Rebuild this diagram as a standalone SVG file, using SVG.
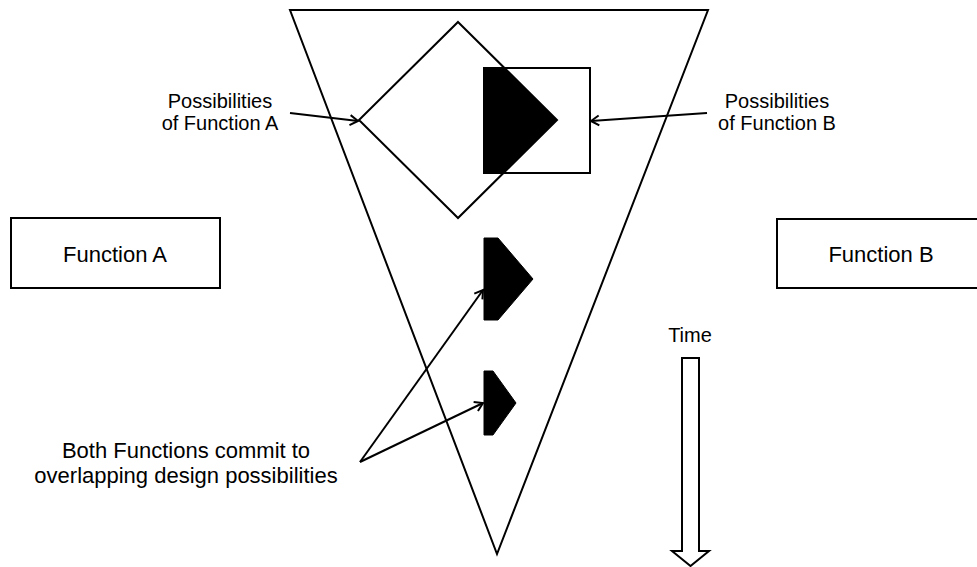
<svg xmlns="http://www.w3.org/2000/svg" width="977" height="567" viewBox="0 0 977 567">
  <style>
    .ln { fill: none; stroke: #000; stroke-width: 2; stroke-linejoin: miter; }
    .box { fill: #fff; stroke: #000; stroke-width: 2; }
    .solid { fill: #000; stroke: #000; stroke-width: 1; stroke-linejoin: round; }
    .conn { fill: none; stroke: #000; stroke-width: 2; marker-end: url(#open); }
    .t20 { font-family: "Liberation Sans", Arial, sans-serif; font-size: 20px; fill: #000; text-anchor: middle; }
    .t22 { font-family: "Liberation Sans", Arial, sans-serif; font-size: 22px; fill: #000; text-anchor: middle; }
  </style>
  <defs>
    <marker id="open" markerUnits="userSpaceOnUse" markerWidth="14" markerHeight="14" refX="11" refY="7" orient="auto">
      <path d="M3,2 L11,7 L3,12" fill="none" stroke="#000" stroke-width="2"/>
    </marker>
  </defs>
  <rect width="977" height="567" fill="#fff"/>

  <g id="funnel">
    <polygon class="ln" points="290,10 708,10 497,554"/>
  </g>

  <g id="possibilities-b">
    <rect class="box" x="484" y="68" width="106" height="105" fill="none"/>
  </g>
  <g id="possibilities-a">
    <polygon class="ln" points="458,22 557,120 458,218 359,120"/>
  </g>
  <g id="overlap-1">
    <polygon class="solid" points="484,68 504,68 556,120 504,173 484,173"/>
  </g>
  <g id="overlap-2">
    <polygon class="solid" points="484,238 498,238 533,279 498,320 484,320"/>
  </g>
  <g id="overlap-3">
    <polygon class="solid" points="484,371 493,371 516,403 493,435 484,435"/>
  </g>

  <g id="function-a">
    <rect class="box" x="11" y="218" width="209" height="70"/>
    <text class="t22" x="115" y="262">Function A</text>
  </g>
  <g id="function-b">
    <rect class="box" x="777" y="219" width="210" height="69"/>
    <text class="t22" x="881" y="262">Function B</text>
  </g>

  <g id="label-a">
    <text class="t20" x="220" y="108">Possibilities</text>
    <text class="t20" x="220" y="130">of Function A</text>
  </g>
  <g id="label-b">
    <text class="t20" x="777" y="108">Possibilities</text>
    <text class="t20" x="777" y="130">of Function B</text>
  </g>
  <g id="label-both">
    <text class="t22" x="186" y="458">Both Functions commit to</text>
    <text class="t22" x="186" y="483">overlapping design possibilities</text>
  </g>

  <g id="time">
    <text class="t20" x="690" y="342">Time</text>
    <polygon class="ln" points="682,358 699,358 699,551 709,551 690.5,566 672,551 682,551"/>
  </g>

  <g id="connectors">
    <line class="conn" x1="290" y1="113" x2="358" y2="121"/>
    <line class="conn" x1="707" y1="113" x2="591" y2="121"/>
    <polyline class="conn" points="360,462 483,290"/>
    <polyline class="conn" points="360,462 483,403"/>
  </g>
</svg>
